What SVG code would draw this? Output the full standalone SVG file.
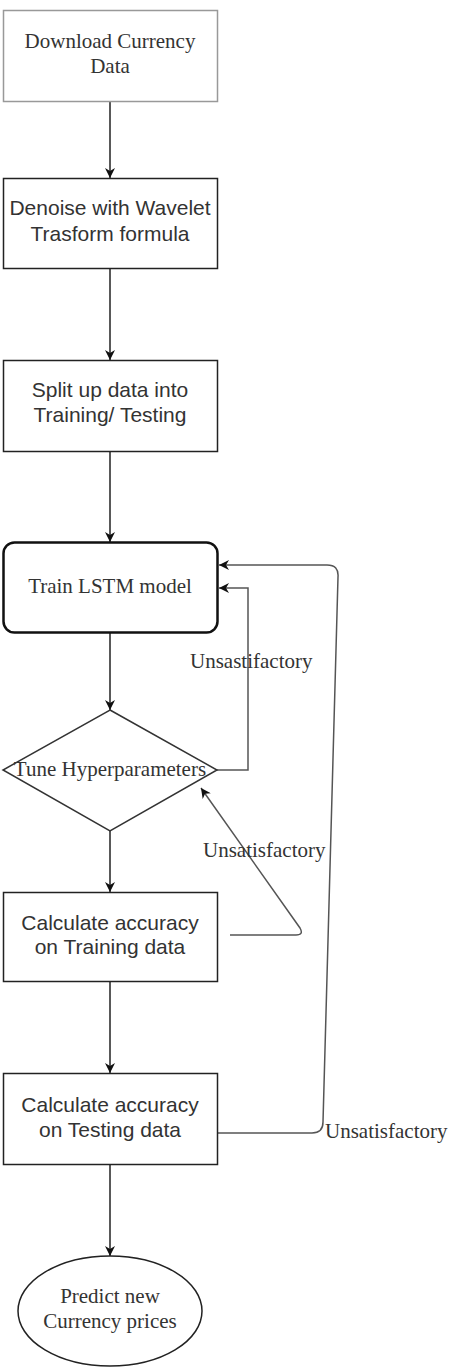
<svg xmlns="http://www.w3.org/2000/svg" width="459" height="1368" viewBox="0 0 459 1368">
<defs>
<marker id="ah" viewBox="0 0 10 10" refX="10" refY="5" markerWidth="10" markerHeight="10" markerUnits="userSpaceOnUse" orient="auto">
<path d="M0,0 L10,5 L0,10 L3,5 Z" fill="#111"/>
</marker>
<style>
.serif{font-family:"Liberation Serif","Times New Roman",serif;font-size:21px;fill:#333;text-anchor:middle}
.sans{font-family:"Liberation Sans",Arial,sans-serif;font-size:21px;fill:#333;text-anchor:middle}
.lbl{font-family:"Liberation Serif","Times New Roman",serif;font-size:21px;fill:#333}
.box{fill:#fff;stroke:#222;stroke-width:1.5}
.conn{fill:none;stroke:#222;stroke-width:1.5;marker-end:url(#ah)}
.fb{fill:none;stroke:#555;stroke-width:1.5}
</style>
</defs>
<rect width="459" height="1368" fill="#fff"/>
<g id="connectors">
<line class="conn" x1="110" y1="102" x2="110" y2="178"/>
<line class="conn" x1="110" y1="269" x2="110" y2="360"/>
<line class="conn" x1="110" y1="452" x2="110" y2="542"/>
<line class="conn" x1="110" y1="633" x2="110" y2="710"/>
<line class="conn" x1="110" y1="831" x2="110" y2="892"/>
<line class="conn" x1="110" y1="982" x2="110" y2="1073"/>
<line class="conn" x1="110" y1="1165" x2="110" y2="1256"/>
<path class="fb" d="M217,770 L248,770 L248,588 L219,588" marker-end="url(#ah)"/>
<path class="fb" d="M230,935 L296,935 Q304,935 300,928 L201,788" marker-end="url(#ah)"/>
<path class="fb" d="M218,1133 L312,1133 Q323,1133 323,1122 L338,577 Q339,565 327,565 L219,565" marker-end="url(#ah)"/>
<text class="lbl" x="190" y="668">Unsastifactory</text>
<text class="lbl" x="203" y="857">Unsatisfactory</text>
<text class="lbl" x="325" y="1138">Unsatisfactory</text>
</g>
<g id="download">
<rect x="3.5" y="10.5" width="214" height="91" fill="#fff" stroke="#999" stroke-width="1.5"/>
<text class="serif" x="110" y="48">Download Currency</text>
<text class="serif" x="110" y="73">Data</text>
</g>
<g id="denoise">
<rect class="box" x="3.5" y="178.5" width="214" height="90"/>
<text class="sans" x="110" y="215">Denoise with Wavelet</text>
<text class="sans" x="110" y="241">Trasform formula</text>
</g>
<g id="split">
<rect class="box" x="3.5" y="360.5" width="214" height="91"/>
<text class="sans" x="110" y="397">Split up data into</text>
<text class="sans" x="110" y="422">Training/ Testing</text>
</g>
<g id="train">
<rect x="3.5" y="542.5" width="214" height="90" rx="11" fill="#fff" stroke="#111" stroke-width="2.5"/>
<text class="serif" x="110" y="593">Train LSTM model</text>
</g>
<g id="tune">
<polygon points="110,710 217,770 110,831 3,770" fill="#fff" stroke="#333" stroke-width="1.5"/>
<text class="serif" x="110" y="776">Tune Hyperparameters</text>
</g>
<g id="acc-train">
<rect class="box" x="3.5" y="892.5" width="214" height="89"/>
<text class="sans" x="110" y="930">Calculate accuracy</text>
<text class="sans" x="110" y="954">on Training data</text>
</g>
<g id="acc-test">
<rect class="box" x="3.5" y="1073.5" width="214" height="91"/>
<text class="sans" x="110" y="1112">Calculate accuracy</text>
<text class="sans" x="110" y="1137">on Testing data</text>
</g>
<g id="predict">
<ellipse cx="110" cy="1311" rx="92" ry="55" fill="#fff" stroke="#222" stroke-width="1.5"/>
<text class="serif" x="110" y="1303">Predict new</text>
<text class="serif" x="110" y="1328">Currency prices</text>
</g>
</svg>
